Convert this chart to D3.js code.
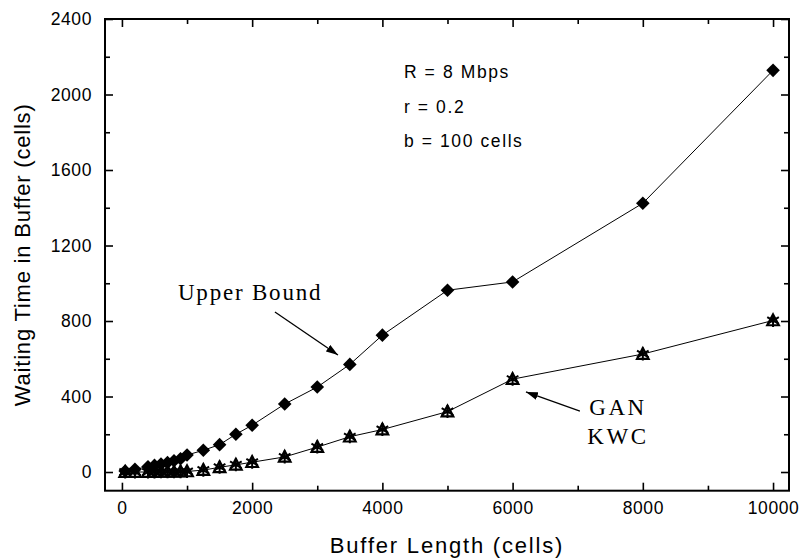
<!DOCTYPE html>
<html><head><meta charset="utf-8">
<script src="https://cdn.jsdelivr.net/npm/d3@7"></script>
<style>body{margin:0;background:#fff}</style></head>
<body><svg id="c" width="801" height="560"></svg>
<script>
const bufferLength = [50,200,400,500,600,700,800,900,1000,1250,1500,1750,2000,2500,3000,3500,4000,5000,6000,8000,10000];
const upperBound   = [5,14,28,35,42,50,60,70,90,115,145,200,248,360,450,570,725,963,1007,1424,2128];
const ganWait      = [0,0,0,0,1,1,1,2,3,10,25,38,52,80,132,187,225,320,492,625,803];
const kwcWait      = [0,0,0,0,1,1,1,2,3,10,25,38,52,80,132,187,225,320,492,625,803];
const xTicks = [0,2000,4000,6000,8000,10000];
const xMinor = [1000,3000,5000,7000,9000];
const yTicks = [0,400,800,1200,1600,2000,2400];
const yMinor = [200,600,1000,1400,1800,2200];
const params = ["R = 8 Mbps","r = 0.2","b = 100 cells"];

const svg = d3.select("#c");
const L=105,R=789,T=19,B=490.7;
const x = d3.scaleLinear().domain([-260,10245]).range([L,R]);
const y = d3.scaleLinear().domain([-99,2400]).range([B,T]);
const sans = "'Liberation Sans', Arial, Helvetica, sans-serif";
const serif = "'Liberation Serif', 'Times New Roman', serif";

function styleAxis(g){ g.select(".domain").remove(); g.selectAll("line").attr("stroke","#000").attr("stroke-width",1.6);
  g.selectAll("text").attr("font-family",sans).attr("font-size","17.5px").attr("fill","#000").attr("letter-spacing","0.6px"); }
svg.append("g").attr("transform",`translate(0,${B})`).call(d3.axisBottom(x).tickValues(xTicks).tickSize(-8).tickPadding(11).tickFormat(d3.format("d"))).call(styleAxis);
svg.append("g").attr("transform",`translate(0,${B})`).call(d3.axisBottom(x).tickValues(xMinor).tickSize(-5).tickFormat("")).call(styleAxis);
svg.append("g").attr("transform",`translate(0,${T})`).call(d3.axisTop(x).tickValues(xTicks).tickSize(-8).tickFormat("")).call(styleAxis);
svg.append("g").attr("transform",`translate(0,${T})`).call(d3.axisTop(x).tickValues(xMinor).tickSize(-5).tickFormat("")).call(styleAxis);
svg.append("g").attr("transform",`translate(${L},0)`).call(d3.axisLeft(y).tickValues(yTicks).tickSize(-8).tickPadding(13).tickFormat(d3.format("d"))).call(styleAxis);
svg.append("g").attr("transform",`translate(${L},0)`).call(d3.axisLeft(y).tickValues(yMinor).tickSize(-5).tickFormat("")).call(styleAxis);
svg.append("g").attr("transform",`translate(${R},0)`).call(d3.axisRight(y).tickValues(yTicks).tickSize(-8).tickFormat("")).call(styleAxis);
svg.append("g").attr("transform",`translate(${R},0)`).call(d3.axisRight(y).tickValues(yMinor).tickSize(-5).tickFormat("")).call(styleAxis);
svg.append("rect").attr("x",L).attr("y",T).attr("width",R-L).attr("height",B-T).attr("fill","none").attr("stroke","#000").attr("stroke-width",2);

svg.append("text").attr("x",(L+R)/2).attr("y",553).attr("text-anchor","middle").attr("font-family",sans).attr("font-size","22px").attr("letter-spacing","1.8px").text("Buffer Length (cells)");
svg.append("text").attr("transform",`translate(30,${(T+B)/2}) rotate(-90)`).attr("text-anchor","middle").attr("font-family",sans).attr("font-size","22px").attr("letter-spacing","0.8px").text("Waiting Time in Buffer (cells)");

const line = d3.line().x(d=>x(d[0])).y(d=>y(d[1]));
const ubData = bufferLength.map((b,i)=>[b,upperBound[i]]);
const ganData = bufferLength.map((b,i)=>[b,ganWait[i]]);
const kwcData = bufferLength.map((b,i)=>[b,kwcWait[i]]);
svg.append("path").datum(ubData).attr("d",line).attr("fill","none").attr("stroke","#000").attr("stroke-width",1);
svg.append("path").datum(ganData).attr("d",line).attr("fill","none").attr("stroke","#000").attr("stroke-width",1);

svg.append("g").selectAll("path").data(ubData).join("path")
  .attr("transform",d=>`translate(${x(d[0])},${y(d[1])})`)
  .attr("d","M0,-6.8L6.8,0L0,6.8L-6.8,0Z").attr("fill","#000");
svg.append("g").selectAll("path").data(ganData).join("path")
  .attr("transform",d=>`translate(${x(d[0])},${y(d[1])})`)
  .attr("d","M0,-6L5.8,4.8L-5.8,4.8Z").attr("fill","none").attr("stroke","#000").attr("stroke-width",2.2);
svg.append("g").selectAll("path").data(kwcData).join("path")
  .attr("transform",d=>`translate(${x(d[0])},${y(d[1])})`)
  .attr("d","M0,-6.5V6.5M-5.8,-3.4L5.8,3.4M-5.8,3.4L5.8,-3.4").attr("fill","none").attr("stroke","#000").attr("stroke-width",2);

svg.append("g").selectAll("text").data(params).join("text")
  .attr("x",x(4331)).attr("y",(d,i)=>y([2087,1903,1722][i]))
  .attr("font-family",sans).attr("font-size","17.5px").attr("letter-spacing","1.6px").text(d=>d);

const defs = svg.append("defs");
defs.append("marker").attr("id","ah").attr("viewBox","0 0 12 8").attr("refX",12).attr("refY",4)
  .attr("markerWidth",12).attr("markerHeight",8).attr("markerUnits","userSpaceOnUse").attr("orient","auto")
  .append("path").attr("d","M0,0L12,4L0,8Z").attr("fill","#000");
svg.append("line").attr("x1",x(2350)).attr("y1",y(848)).attr("x2",x(3318)).attr("y2",y(620))
  .attr("stroke","#000").attr("stroke-width",1.3).attr("marker-end","url(#ah)");
svg.append("line").attr("x1",x(7034)).attr("y1",y(323)).attr("x2",x(6205)).attr("y2",y(424))
  .attr("stroke","#000").attr("stroke-width",1.3).attr("marker-end","url(#ah)");
svg.append("text").attr("x",x(860)).attr("y",y(911)).attr("font-family",serif).attr("font-size","23px").attr("letter-spacing","1.8px").text("Upper Bound");
svg.append("text").attr("x",x(7618)).attr("y",y(302)).attr("text-anchor","middle").attr("font-family",serif).attr("font-size","23px").attr("letter-spacing","2.5px").text("GAN");
svg.append("text").attr("x",x(7618)).attr("y",y(148)).attr("text-anchor","middle").attr("font-family",serif).attr("font-size","23px").attr("letter-spacing","2.5px").text("KWC");
</script></body></html>
